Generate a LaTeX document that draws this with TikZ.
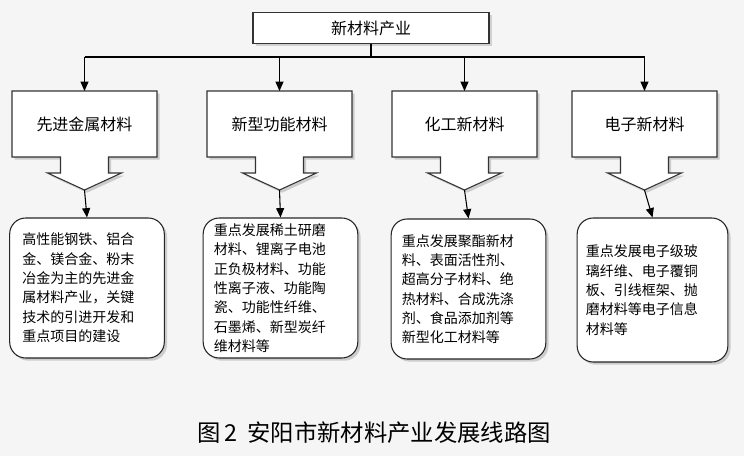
\documentclass[tikz,border=0pt]{standalone}
\usepackage{fontspec}
\setmainfont{Noto Sans CJK SC}
\usetikzlibrary{shadows,arrows.meta}
\begin{document}
\begin{tikzpicture}[x=0.75pt,y=-0.75pt,
  arr/.style={-{Triangle[length=7pt,width=6pt]},line width=0.8pt},
  callout/.style={draw=black!80,fill=white,line width=0.8pt,drop shadow={opacity=0.35,shadow xshift=2pt,shadow yshift=-2pt}},
  title/.style={font=\fontsize{12}{14}\selectfont},
  body/.style={draw=black!85,fill=white,rounded corners=12pt,line width=0.8pt,drop shadow={opacity=0.35,shadow xshift=2pt,shadow yshift=-2pt},
    align=left,font=\fontsize{10.5}{14.5}\selectfont,inner sep=0pt}]
\fill[gray!8] (0,0) rectangle (744,456);
\node[draw=black!80,fill=white,line width=0.8pt,minimum width=177pt,minimum height=23pt,title,drop shadow={opacity=0.3,shadow xshift=2pt,shadow yshift=-2pt}] (top) at (371,28) {新材料产业};
\coordinate (j) at (371,57);
\draw[line width=0.8pt] (top.south) -- (j);
\foreach \i/\cx/\t in {1/84.5/先进金属材料,2/279.5/新型功能材料,3/464.5/化工新材料,4/644.5/电子新材料}{
  \path[callout] (\cx-72.5,91) -- (\cx+72.5,91) -- (\cx+72.5,157) -- (\cx+24,157) -- (\cx+24,173) -- (\cx+37,173)
     -- (\cx,190) -- (\cx-37,173) -- (\cx-24,173) -- (\cx-24,157) -- (\cx-72.5,157) -- cycle;
  \node[title] (h\i) at (\cx,124) {\t};
  \coordinate (a\i) at (\cx,190);
  \coordinate (t\i) at (\cx,57);
  \coordinate (k\i) at (\cx,91);
}
\draw[line width=0.8pt] (t1) -- (t4);
\foreach \i in {1,2,3,4}{\draw[arr] (t\i) -- (k\i);}
\node[body,minimum width=116pt,minimum height=105pt,text width=97pt] (b1) at (87,288) {高性能钢铁、铝合\\金、镁合金、粉末\\冶金为主的先进金\\属材料产业，关键\\技术的引进开发和\\重点项目的建设};
\node[body,minimum width=116pt,minimum height=105pt,text width=100pt] (b2) at (280.5,288) {重点发展稀土研磨\\材料、锂离子电池\\正负极材料、功能\\性离子液、功能陶\\瓷、功能性纤维、\\石墨烯、新型炭纤\\维材料等};
\node[body,minimum width=116pt,minimum height=105pt,text width=100pt] (b3) at (468.5,289) {重点发展聚酯新材\\料、表面活性剂、\\超高分子材料、绝\\热材料、合成洗涤\\剂、食品添加剂等\\新型化工材料等};
\node[body,minimum width=113pt,minimum height=108pt,text width=100pt] (b4) at (652.5,290) {重点发展电子级玻\\璃纤维、电子覆铜\\板、引线框架、抛\\磨材料等电子信息\\材料等};
\foreach \i in {1,2,3,4}{\draw[arr] (a\i) -- (b\i.north);}
\node[font=\fontsize{17.5}{20}\selectfont] (cap) at (374,433) {图\,2\ \ 安阳市新材料产业发展线路图};
\end{tikzpicture}
\end{document}
